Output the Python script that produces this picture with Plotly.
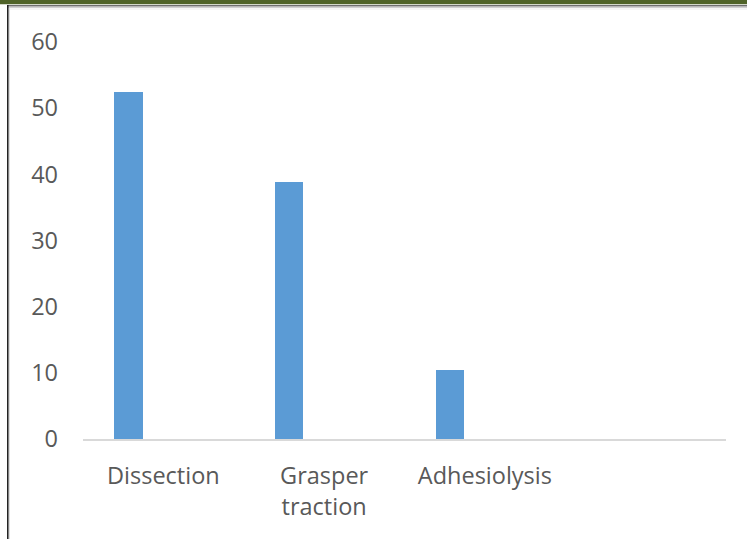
import plotly.graph_objects as go

# Category labels (the fourth slot is left empty on the axis)
categories = ["Dissection", "Grasper<br>traction", "Adhesiolysis", ""]
values = [52.5, 38.8, 10.5]
y_ticks = [0, 10, 20, 30, 40, 50, 60]

W, H = 747, 539
ML, MR, MT, MB = 83, 21, 42, 100
PW, PH = W - ML - MR, H - MT - MB


def px_x(p):
    return (p - ML) / PW


def px_y(p):
    return 1 - (p - MT) / PH


text_color = "#595959"
font_family = "'Open Sans', Lato, sans-serif"
font_size = 23.5

fig = go.Figure()
fig.add_trace(go.Bar(
    x=list(range(len(values))),
    y=values,
    marker=dict(color="#5B9BD5", line=dict(width=0)),
    width=0.177,
    offset=-0.306,
    hoverinfo="x+y",
))

shapes = [
    # olive banner along the top edge
    dict(type="rect", xref="paper", yref="paper",
         x0=px_x(0), x1=px_x(W), y0=px_y(0), y1=px_y(4.2),
         fillcolor="#4F6328", line=dict(width=0), layer="above"),
    # frame: top rule and its soft shadow
    dict(type="line", xref="paper", yref="paper",
         x0=px_x(7), x1=px_x(W), y0=px_y(5.8), y1=px_y(5.8),
         line=dict(color="#6E6E6E", width=1.4)),
    dict(type="line", xref="paper", yref="paper",
         x0=px_x(8), x1=px_x(W), y0=px_y(7.5), y1=px_y(7.5),
         line=dict(color="#CFCFCF", width=1.2)),
    dict(type="line", xref="paper", yref="paper",
         x0=px_x(9), x1=px_x(W), y0=px_y(9), y1=px_y(9),
         line=dict(color="#ECECEC", width=1.2)),
    # frame: left edge
    dict(type="line", xref="paper", yref="paper",
         x0=px_x(7.8), x1=px_x(7.8), y0=px_y(5), y1=px_y(H),
         line=dict(color="#1A1A1A", width=1.5)),
    dict(type="line", xref="paper", yref="paper",
         x0=px_x(9.5), x1=px_x(9.5), y0=px_y(8), y1=px_y(H),
         line=dict(color="#E0E0E0", width=1)),
]

fig.update_layout(
    width=W, height=H,
    margin=dict(l=ML, r=MR, t=MT, b=MB),
    paper_bgcolor="white",
    plot_bgcolor="white",
    showlegend=False,
    bargap=0,
    shapes=shapes,
    font=dict(family=font_family, color=text_color, size=font_size),
    xaxis=dict(
        range=[-0.5, 3.5],
        tickmode="array",
        tickvals=list(range(len(categories))),
        ticktext=categories,
        showgrid=False,
        zeroline=False,
        showline=True,
        linecolor="#D9D9D9",
        linewidth=1.5,
        ticks="",
        ticklabelstandoff=15,
        tickfont=dict(size=font_size, color=text_color),
        fixedrange=True,
    ),
    yaxis=dict(
        range=[0, 60],
        tickmode="array",
        tickvals=y_ticks,
        showgrid=False,
        zeroline=False,
        showline=False,
        ticks="",
        ticklabelstandoff=24,
        tickfont=dict(size=font_size, color=text_color),
        fixedrange=True,
    ),
)

fig.write_html("out.html")
